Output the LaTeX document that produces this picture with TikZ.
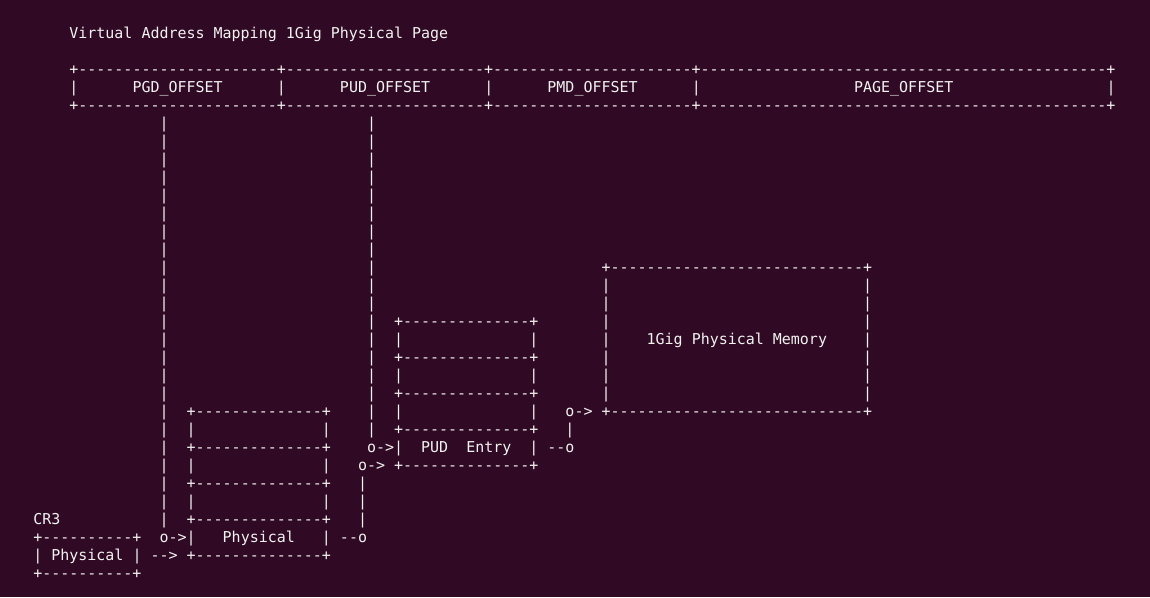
\documentclass[tikz,border=0pt]{standalone}
\usepackage{fontspec}
\newfontfamily\termfont{DejaVu Sans Mono}
\definecolor{termbg}{HTML}{300A24}
\definecolor{termfg}{HTML}{F2F2F0}
\ExplSyntaxOn
\NewDocumentCommand\dsh{m}{\prg_replicate:nn{#1}{-\kern0pt}}
\ExplSyntaxOff
\newcommand\T[4]{\node[term] (#1) at ({33.3+9.02*(#3)},{38.3+18*(#2)}) {#4};}
\tikzset{term/.style={anchor=base west, inner sep=0pt, outer sep=0pt, text=termfg,
  font=\termfont\fontsize{14.98}{18}\selectfont}}
\begin{document}
\begin{tikzpicture}[x=1pt,y=-1pt]
\path[use as bounding box, fill=termbg] (0,0) rectangle (1150,597);
% title and header
\T{title}{0}{4}{Virtual Address Mapping 1Gig Physical Page}
\T{hdrtop}{2}{4}{+\dsh{22}+\dsh{22}+\dsh{22}+\dsh{45}+}
\T{hdrbot}{4}{4}{+\dsh{22}+\dsh{22}+\dsh{22}+\dsh{45}+}
\T{hb1}{3}{4}{|}\T{hb2}{3}{27}{|}\T{hb3}{3}{50}{|}\T{hb4}{3}{73}{|}\T{hb5}{3}{119}{|}
\T{pgdoff}{3}{11}{PGD\_OFFSET}
\T{pudoff}{3}{34}{PUD\_OFFSET}
\T{pmdoff}{3}{57}{PMD\_OFFSET}
\T{pageoff}{3}{91}{PAGE\_OFFSET}
% offset lines
\foreach \r in {5,...,27} {\T{pgdline\r}{\r}{14}{|}}
\foreach \r in {5,...,22} {\T{pudline\r}{\r}{37}{|}}
% 1Gig memory
\T{memtop}{13}{63}{+\dsh{28}+}
\foreach \r in {14,...,20} {\T{memL\r}{\r}{63}{|}\T{memR\r}{\r}{92}{|}}
\T{memtext}{17}{68}{1Gig Physical Memory}
\T{membot}{21}{63}{+\dsh{28}+}
\T{memarrow}{21}{59}{o->}
\T{memlink}{22}{59}{|}
\T{pudout}{23}{57}{-\kern0pt-o}
% PUD table
\foreach \r in {16,18,20,22,24} {\T{pudrule\r}{\r}{40}{+\dsh{14}+}}
\foreach \r in {17,19,21,23} {\T{pudL\r}{\r}{40}{|}\T{pudR\r}{\r}{55}{|}}
\T{pudentry}{23}{43}{PUD}
\T{pudentryb}{23}{48}{Entry}
\T{pudin}{23}{37}{o->}
\T{pudinb}{24}{36}{o->}
\foreach \r in {25,26,27} {\T{pgdlink\r}{\r}{36}{|}}
\T{pgdout}{28}{34}{-\kern0pt-o}
% PGD table
\foreach \r in {21,23,25,27,29} {\T{pgdrule\r}{\r}{17}{+\dsh{14}+}}
\foreach \r in {22,24,26,28} {\T{pgdL\r}{\r}{17}{|}\T{pgdR\r}{\r}{32}{|}}
\T{pgdphys}{28}{21}{Physical}
\T{pgdin}{28}{14}{o->}
% CR3
\T{cr3}{27}{0}{CR3}
\T{cr3top}{28}{0}{+\dsh{10}+}
\T{cr3L}{29}{0}{|}
\T{cr3text}{29}{2}{Physical}
\T{cr3R}{29}{11}{|}
\T{cr3bot}{30}{0}{+\dsh{10}+}
\T{cr3arrow}{29}{13}{-\kern0pt->}
\end{tikzpicture}
\end{document}
